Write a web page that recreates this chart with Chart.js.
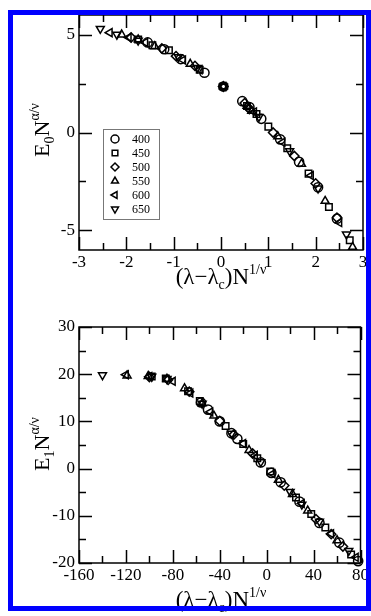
<!DOCTYPE html>
<html>
<head>
<meta charset="utf-8">
<script src="https://cdn.jsdelivr.net/npm/chart.js@4.4.1/dist/chart.umd.min.js"></script>
<style>
  html, body { margin:0; padding:0; background:#fff; }
  body { width:371px; height:616px; position:relative; overflow:hidden; font-family:'Liberation Serif','DejaVu Serif',serif; }
  .panel { position:absolute; left:0; width:371px; }
  .frame { position:absolute; left:8px; top:10px; width:363px; height:601px; border:5px solid #0000ff; box-sizing:border-box; pointer-events:none; z-index:5; }
  .xt { position:absolute; left:79px; width:284px; text-align:center; font-size:23px; line-height:24px; color:#000; white-space:nowrap; }
  .yt { position:absolute; width:200px; height:24px; text-align:center; font-size:22px; line-height:24px; color:#000; transform:rotate(-90deg); white-space:nowrap; }
  .sb { font-size:14px; position:relative; top:5px; }
  .sp { font-size:14px; position:relative; top:-10px; }
</style>
</head>
<body>
<div class="panel" style="top:0;height:300px;"><canvas id="top-chart"></canvas></div>
<div class="panel" style="top:300px;height:316px;"><canvas id="bottom-chart"></canvas></div>

<div class="xt" style="top:265px;">(λ−λ<span class="sb">c</span>)N<span class="sp">1/ν</span></div>
<div class="yt" style="left:-58px;top:118px;">E<span class="sb">0</span>N<span class="sp">α/ν</span></div>
<div class="xt" style="top:588px;">(λ−λ<span class="sb">c</span>)N<span class="sp">1/ν</span></div>
<div class="yt" style="left:-58px;top:432px;">E<span class="sb">1</span>N<span class="sp">α/ν</span></div>
<div class="frame"></div>

<script>
/* ---- series names and marker shapes ---- */
const seriesNames = ['400', '450', '500', '550', '600', '650'];
const markerStyles = ['circle', 'rect', 'rectRot', 'triangle', 'triangle', 'triangle'];
const markerTurns  = [0, 0, 0, 0, -90, 180];

/* ---- top panel: E0 N^(a/v) vs (l-lc) N^(1/v) ---- */
const e0x400 = [-1.55, -1.2, -0.85, -0.35, 0.05, 0.45, 0.6, 0.85, 1.25, 1.65, 2.05, 2.45];
const e0y400 = [4.6, 4.25, 3.75, 3.05, 2.35, 1.6, 1.3, 0.7, -0.35, -1.5, -2.8, -4.4];
const e0x450 = [-1.75, -1.45, -1.1, -0.45, 0.05, 0.55, 0.75, 1.0, 1.4, 1.85, 2.28, 2.72];
const e0y450 = [4.75, 4.45, 4.2, 3.2, 2.35, 1.35, 0.95, 0.3, -0.8, -2.1, -3.8, -5.5];
const e0x500 = [-1.9, -1.25, -0.95, -0.55, 0.05, 0.5, 0.6, 1.1, 1.55, 2.0, 2.45];
const e0y500 = [4.85, 4.3, 3.9, 3.4, 2.35, 1.5, 1.2, 0.0, -1.2, -2.6, -4.35];
const e0x550 = [-2.1, -1.75, -1.4, -0.65, 0.05, 0.55, 0.65, 1.2, 1.7, 2.2, 2.78];
const e0y550 = [5.0, 4.75, 4.4, 3.5, 2.35, 1.35, 1.1, -0.2, -1.6, -3.5, -5.85];
const e0x600 = [-2.35, -1.95, -1.6, -0.8, -0.45, 0.05, 0.7, 1.3, 1.9, 2.5];
const e0y600 = [5.1, 4.85, 4.6, 3.7, 3.2, 2.35, 1.05, -0.5, -2.2, -4.6];
const e0x650 = [-2.55, -2.2, -1.75, -0.9, -0.5, 0.05, 0.8, 1.45, 2.05, 2.65];
const e0y650 = [5.3, 5.0, 4.7, 3.85, 3.3, 2.35, 0.8, -0.95, -2.85, -5.2];

const topXMajor = [-3, -2, -1, 0, 1, 2, 3];
const topXMinor = [-2.5, -1.5, -0.5, 0.5, 1.5, 2.5];
const topYMajor = [-5, 0, 5];
const topYMinor = [-2.5, 2.5];

/* ---- bottom panel: E1 N^(a/v) vs (l-lc) N^(1/v) ---- */
const e1x400 = [-56, -50, -40, -30, -25, -5, 4, 12, 28, 45, 62, 78];
const e1y400 = [14.0, 12.5, 10.0, 7.5, 6.3, 1.3, -0.9, -2.9, -7.0, -11.5, -15.7, -19.6];
const e1x450 = [-98, -86, -67, -57, -35, -20, -8, 3, 25, 38, 50, 72];
const e1y450 = [19.5, 19.1, 16.4, 14.3, 9.0, 5.2, 2.2, -0.6, -6.1, -9.6, -12.5, -18.2];
const e1x500 = [-100, -84, -66, -40, -28, -12, 15, 42, 55, 65];
const e1y500 = [19.4, 18.8, 16.3, 10.1, 7.2, 3.2, -3.6, -10.7, -13.9, -16.5];
const e1x550 = [-119, -101, -85, -70, -55, -45, -15, 10, 22, 35, 60];
const e1y550 = [19.7, 19.6, 19.0, 17.0, 13.8, 11.2, 3.9, -2.4, -5.4, -8.9, -15.2];
const e1x600 = [-120, -100, -80, -65, -48, -20, -10, 5, 30, 55, 76];
const e1y600 = [19.9, 19.5, 18.5, 16.0, 12.0, 5.3, 2.8, -1.1, -7.4, -13.8, -18.8];
const e1x650 = [-140, -98, -85, -55, -30, -5, 20, 30, 45, 70];
const e1y650 = [19.8, 19.5, 19.0, 13.8, 7.4, 1.4, -4.9, -7.6, -11.2, -17.4];

const botXMajor = [-160, -120, -80, -40, 0, 40, 80];
const botXMinor = [-140, -100, -60, -20, 20, 60];
const botYMajor = [-20, -10, 0, 10, 20, 30];
const botYMinor = [-15, -5, 5, 15, 25];

const FONT = "'Liberation Serif', 'DejaVu Serif', serif";

function pairs(xs, ys) { return xs.map((x, i) => ({ x, y: ys[i] })); }

function makeSets(xsList, ysList) {
  return seriesNames.map((name, i) => ({
    label: name,
    data: pairs(xsList[i], ysList[i]),
    showLine: false,
    pointStyle: markerStyles[i],
    rotation: markerTurns[i],
    pointRadius: 4.6,
    pointBorderWidth: 1.5,
    pointBorderColor: '#000',
    pointBackgroundColor: 'rgba(0,0,0,0)',
    pointHoverRadius: 4.6,
    clip: false,
  }));
}

/* inward ticks on all four sides + black frame */
function tickPlugin(xMaj, xMin, yMaj, yMin, withLegend) {
  return {
    id: 'frameTicks',
    afterDatasetsDraw(chart) {
      const { ctx, chartArea: a, scales: { x, y } } = chart;
      const MAJ = 13, MIN = 7;
      ctx.save();
      ctx.strokeStyle = '#000';
      ctx.lineWidth = 1.5;
      ctx.strokeRect(a.left, a.top, a.right - a.left, a.bottom - a.top);
      const tx = (v, len) => {
        const p = Math.round(x.getPixelForValue(v)) + 0.5;
        ctx.beginPath();
        ctx.moveTo(p, a.bottom); ctx.lineTo(p, a.bottom - len);
        ctx.moveTo(p, a.top); ctx.lineTo(p, a.top + len);
        ctx.stroke();
      };
      const ty = (v, len) => {
        const p = Math.round(y.getPixelForValue(v)) + 0.5;
        ctx.beginPath();
        ctx.moveTo(a.left, p); ctx.lineTo(a.left + len, p);
        ctx.moveTo(a.right, p); ctx.lineTo(a.right - len, p);
        ctx.stroke();
      };
      xMaj.forEach(v => tx(v, MAJ)); xMin.forEach(v => tx(v, MIN));
      yMaj.forEach(v => ty(v, MAJ)); yMin.forEach(v => ty(v, MIN));

      if (withLegend) {
        const bx = 103, by = 129, bw = 56, bh = 90;
        ctx.lineWidth = 1;
        ctx.strokeStyle = '#777';
        ctx.fillStyle = '#fff';
        ctx.fillRect(bx, by, bw, bh);
        ctx.strokeRect(bx + 0.5, by + 0.5, bw, bh);
        ctx.font = '12px ' + FONT;
        ctx.textBaseline = 'middle';
        ctx.textAlign = 'left';
        seriesNames.forEach((name, i) => {
          const cy = by + 10 + i * 14;
          ctx.fillStyle = '#fff';
          ctx.strokeStyle = '#000';
          ctx.lineWidth = 1.5;
          Chart.helpers.drawPoint(ctx, {
            pointStyle: markerStyles[i], rotation: markerTurns[i], radius: 4, borderWidth: 1.5
          }, bx + 12, cy);
          ctx.fillStyle = '#000';
          ctx.fillText(name, bx + 29, cy + 1);
        });
      }
      ctx.restore();
    }
  };
}

function buildChart(id, sets, xr, yr, xMaj, xMin, yMaj, yMin, pad, xh, legend) {
  return new Chart(document.getElementById(id), {
    type: 'scatter',
    data: { datasets: sets },
    options: {
      responsive: true, maintainAspectRatio: false, animation: false,
      events: [],
      layout: { padding: pad },
      plugins: { legend: { display: false }, tooltip: { enabled: false } },
      scales: {
        x: {
          type: 'linear', min: xr[0], max: xr[1],
          grid: { display: false, drawTicks: false }, border: { display: false },
          afterBuildTicks: s => { s.ticks = xMaj.map(v => ({ value: v })); },
          afterFit: s => { s.height = xh; },
          ticks: { color: '#000', padding: 2, maxRotation: 0, autoSkip: false,
                   font: { family: FONT, size: 17 }, callback: v => String(v) },
        },
        y: {
          type: 'linear', min: yr[0], max: yr[1],
          grid: { display: false, drawTicks: false }, border: { display: false },
          afterBuildTicks: s => { s.ticks = yMaj.map(v => ({ value: v })); },
          afterFit: s => { s.width = 79; },
          ticks: { color: '#000', padding: 4, autoSkip: false,
                   font: { family: FONT, size: 17 }, callback: v => String(v) },
        },
      },
    },
    plugins: [tickPlugin(xMaj, xMin, yMaj, yMin, legend)],
  });
}

buildChart('top-chart',
  makeSets([e0x400, e0x450, e0x500, e0x550, e0x600, e0x650], [e0y400, e0y450, e0y500, e0y550, e0y600, e0y650]),
  [-3, 3], [-6, 6], topXMajor, topXMinor, topYMajor, topYMinor,
  { left: 0, right: 8, top: 15, bottom: 0 }, 50, true);

buildChart('bottom-chart',
  makeSets([e1x400, e1x450, e1x500, e1x550, e1x600, e1x650], [e1y400, e1y450, e1y500, e1y550, e1y600, e1y650]),
  [-160, 80], [-20, 30], botXMajor, botXMinor, botYMajor, botYMinor,
  { left: 0, right: 8, top: 27, bottom: 0 }, 53, false);
</script>
</body>
</html>
